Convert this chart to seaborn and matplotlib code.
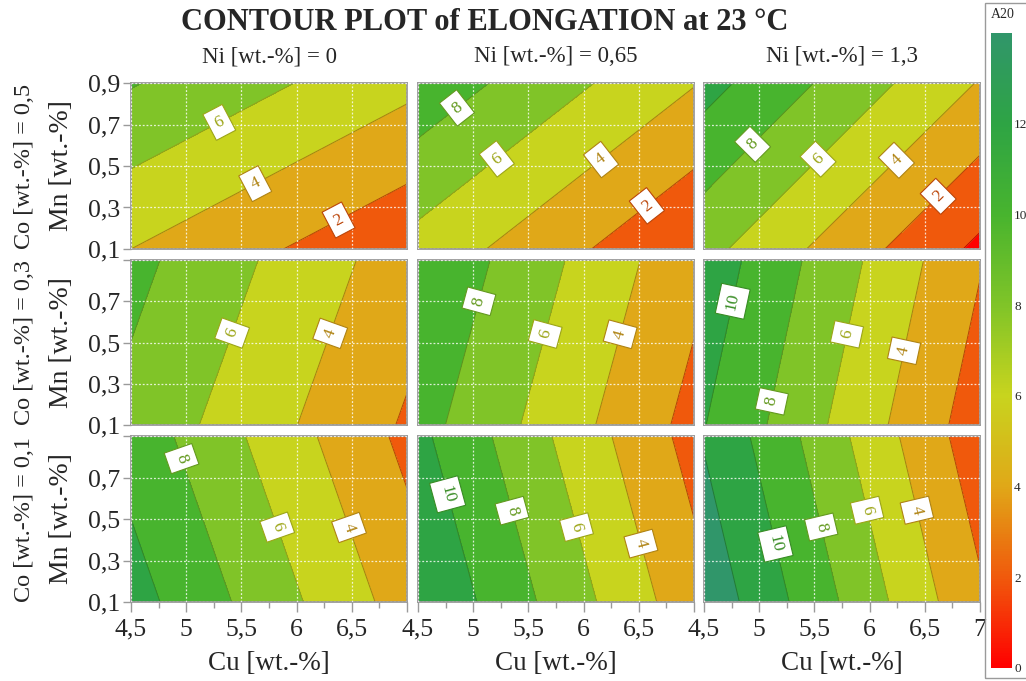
import numpy as np
import matplotlib
matplotlib.use("Agg")
import matplotlib.pyplot as plt
import seaborn as sns
from matplotlib.colors import Normalize, to_rgb
from matplotlib.cm import ScalarMappable
from matplotlib.patches import Rectangle
from matplotlib.ticker import FixedLocator, FixedFormatter, MultipleLocator

# ---------------- data ----------------
CU = [4.5, 7.0]          # Cu [wt.-%] grid (columns of the value arrays)
MN = [0.1, 0.9]          # Mn [wt.-%] grid (rows of the value arrays)
CO_VALUES = ["0,5", "0,3", "0,1"]      # panel rows
NI_VALUES = ["0", "0,65", "1,3"]       # panel columns

# elongation [%] at the corners: [[Mn=0.1: Cu=4.5, Cu=7], [Mn=0.9: Cu=4.5, Cu=7]]
elong_co05_ni000 = [[4.00, 0.38], [8.14, 4.52]]
elong_co05_ni065 = [[5.30, 0.05], [9.35, 4.10]]
elong_co05_ni130 = [[6.62, -0.43], [10.72, 3.87]]
elong_co03_ni000 = [[7.39, 1.77], [8.59, 2.97]]
elong_co03_ni065 = [[8.73, 1.38], [9.92, 2.57]]
elong_co03_ni130 = [[10.07, 0.97], [11.24, 2.14]]
elong_co01_ni000 = [[10.81, 3.11], [9.19, 1.49]]
elong_co01_ni065 = [[11.96, 2.76], [10.46, 1.26]]
elong_co01_ni130 = [[13.42, 2.34], [11.84, 0.76]]

CONTOUR_LEVELS = [0, 2, 4, 6, 8, 10, 12]
FILL_LEVELS = [-2, 0, 2, 4, 6, 8, 10, 12, 14]
CBAR_TICKS = [0, 2, 4, 6, 8, 10, 12]
CU_TICKS = [4.5, 5, 5.5, 6, 6.5, 7]
MN_TICKS = [0.1, 0.3, 0.5, 0.7, 0.9]

PANELS = [
    [elong_co05_ni000, elong_co05_ni065, elong_co05_ni130],
    [elong_co03_ni000, elong_co03_ni065, elong_co03_ni130],
    [elong_co01_ni000, elong_co01_ni065, elong_co01_ni130],
]

# ---------------- style ----------------
sns.set_style("white")
plt.rcParams["font.family"] = ["Liberation Serif", "DejaVu Serif"]

NODE_COLORS = ["#ff0000", "#f05a0c", "#e0a818", "#c8d41e",
               "#80c428", "#48b42e", "#2ea444", "#30966a"]
cmap = sns.blend_palette(NODE_COLORS, as_cmap=True)
norm = Normalize(vmin=0, vmax=14)

def darken(c, f):
    r, g, b = to_rgb(c)
    return (r * f, g * f, b * f)

band_colors = [cmap(norm(max(hi, 0))) for hi in FILL_LEVELS[1:]]
line_colors = [darken(cmap(norm(l)), 0.75) for l in CONTOUR_LEVELS]
text_colors = [darken(cmap(norm(l)), 0.78) for l in CONTOUR_LEVELS]

# label anchor positions (Cu, Mn) per panel
LABEL_POS = [
    [[(5.29, 0.72), (5.62, 0.42), (6.38, 0.24)],
     [(4.86, 0.775), (5.22, 0.53), (6.16, 0.53), (6.57, 0.31)],
     [(4.93, 0.61), (5.52, 0.54), (6.22, 0.54), (6.61, 0.36)]],
    [[(5.42, 0.545), (6.30, 0.545)],
     [(5.05, 0.70), (5.66, 0.54), (6.33, 0.54)],
     [(4.76, 0.70), (5.11, 0.215), (5.79, 0.54), (6.31, 0.46)]],
    [[(4.92, 0.784), (5.82, 0.46), (6.48, 0.46)],
     [(4.775, 0.62), (5.35, 0.54), (5.93, 0.46), (6.51, 0.38)],
     [(5.15, 0.38), (5.55, 0.46), (5.96, 0.54), (6.41, 0.54)]],
]

W, H = 1026, 681
fig = plt.figure(figsize=(W / 100, H / 100), dpi=100)
fig.patch.set_facecolor("white")

def rect(x0, x1, y0, y1):
    return [x0 / W, 1 - y1 / H, (x1 - x0) / W, (y1 - y0) / H]

COL_X = [(131, 407), (418, 694), (704, 980)]
ROW_Y = [(83, 249), (260, 425), (436, 602)]

def fmt(v):
    return f"{v:g}".replace(".", ",")

SPINE = "#9a9a9a"
for r in range(3):
    for c in range(3):
        ax = fig.add_axes(rect(*COL_X[c], *ROW_Y[r]))
        z = np.array(PANELS[r][c])
        ax.contourf(CU, MN, z, levels=FILL_LEVELS, colors=band_colors)
        cs = ax.contour(CU, MN, z, levels=CONTOUR_LEVELS, colors=line_colors,
                        linewidths=0.7)
        ax.clabel(cs, levels=CONTOUR_LEVELS, manual=LABEL_POS[r][c],
                  inline=True, inline_spacing=2, fmt="%d",
                  fontsize=12.5, colors=text_colors)
        for t in cs.labelTexts:
            col = t.get_color()
            t.set_bbox(dict(boxstyle="square,pad=0.38", fc="white", ec=col, lw=0.8))
        ax.set_xlim(4.5, 7)
        ax.set_ylim(0.1, 0.9)
        ax.set_axisbelow(False)
        ax.xaxis.set_major_locator(FixedLocator(CU_TICKS))
        ax.yaxis.set_major_locator(FixedLocator(MN_TICKS))
        ax.grid(True, color="white", linestyle=(0, (1.5, 1.5)), linewidth=0.9,
                alpha=0.8)
        for s in ax.spines.values():
            s.set_color(SPINE)
            s.set_linewidth(1.3)
        # x ticks
        if r == 2:
            xl = [fmt(v) for v in CU_TICKS]
            if c < 2:
                xl[-1] = ""
            ax.xaxis.set_major_formatter(FixedFormatter(xl))
            ax.xaxis.set_minor_locator(MultipleLocator(0.25))
            ax.tick_params(axis="x", which="major", direction="out", length=7,
                           width=1, color=SPINE, labelsize=18.5, pad=5,
                           bottom=True)
            ax.tick_params(axis="x", which="minor", direction="out", length=4,
                           width=1, color=SPINE, bottom=True)
        else:
            ax.tick_params(axis="x", which="both", bottom=False, labelbottom=False)
        # y ticks
        if c == 0:
            yl = [fmt(v) for v in MN_TICKS]
            if r > 0:
                yl[-1] = ""
            ax.yaxis.set_major_formatter(FixedFormatter(yl))
            ax.tick_params(axis="y", which="major", direction="out", length=6,
                           width=1, color=SPINE, labelsize=18.5, pad=2, left=True)
        else:
            ax.tick_params(axis="y", which="both", left=False, labelleft=False)

# texts
fig.text(485 / W, 1 - 22 / H, "CONTOUR PLOT of ELONGATION at 23 °C",
         ha="center", va="center", fontsize=22, fontweight="bold")
for c in range(3):
    xc = (COL_X[c][0] + COL_X[c][1]) / 2
    fig.text(xc / W, 1 - 57 / H, f"Ni [wt.-%] = {NI_VALUES[c]}",
             ha="center", va="center", fontsize=16.5)
    fig.text(xc / W, 1 - 664 / H, "Cu [wt.-%]", ha="center", va="center",
             fontsize=19.5)
for r in range(3):
    yc = (ROW_Y[r][0] + ROW_Y[r][1]) / 2
    fig.text(62 / W, 1 - yc / H, "Mn [wt.-%]", ha="center", va="center",
             rotation=90, fontsize=20)
    fig.text(25 / W, 1 - yc / H, f"Co [wt.-%] = {CO_VALUES[r]}", ha="center",
             va="center", rotation=90, fontsize=17.5)

# colour bar
cax = fig.add_axes(rect(991, 1012, 33, 668))
cb = fig.colorbar(ScalarMappable(norm=norm, cmap=cmap), cax=cax)
cb.outline.set_visible(False)
cb.set_ticks(CBAR_TICKS)
cb.set_ticklabels([str(t) for t in CBAR_TICKS])
cax.tick_params(length=0, labelsize=9.5, pad=1.5)
fig.patches.append(Rectangle((985 / W, 3 / H), 60 / W, 675 / H,
                             transform=fig.transFigure, fill=False,
                             ec="#9a9a9a", lw=1.0))
fig.text(1003 / W, 1 - 15 / H, "A20", ha="center", va="center", fontsize=10)

fig.savefig("out.png", dpi=100)
